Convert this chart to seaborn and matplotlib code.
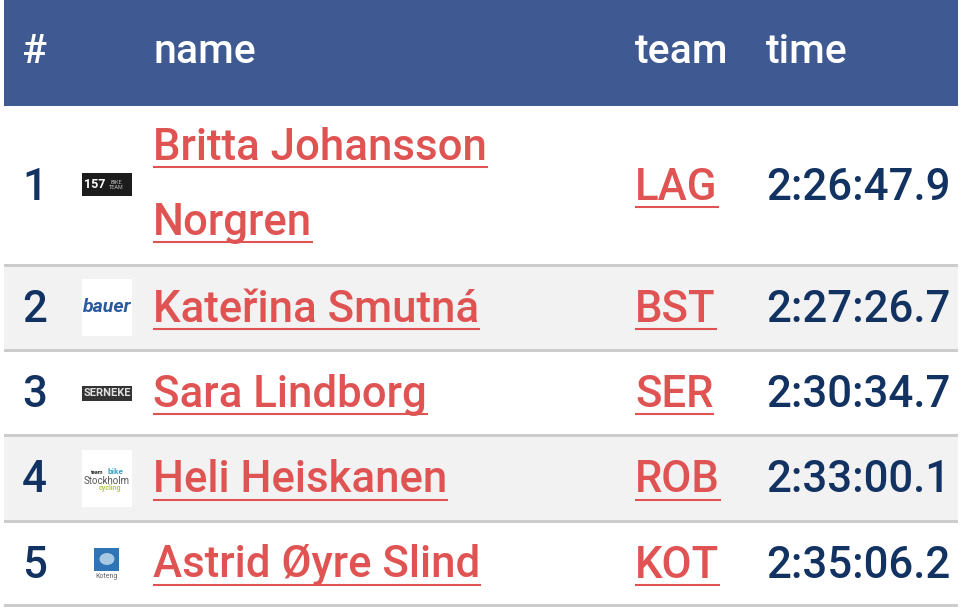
import matplotlib.pyplot as plt
from matplotlib.patches import Rectangle, Ellipse
import seaborn as sns

sns.set_style('white')
plt.rcParams['font.family'] = ['Roboto', 'DejaVu Sans']

headers = ['#', 'name', 'team', 'time']
ranks = ['1', '2', '3', '4', '5']
names = [['Britta Johansson', 'Norgren'], ['Kateřina Smutná'], ['Sara Lindborg'],
         ['Heli Heiskanen'], ['Astrid Øyre Slind']]
teams = ['LAG', 'BST', 'SER', 'ROB', 'KOT']
times = ['2:26:47.9', '2:27:26.7', '2:30:34.7', '2:33:00.1', '2:35:06.2']

# row edges in pixels, top and bottom
row_top = [107, 267, 352, 437, 523]
row_bot = [264, 349, 434, 520, 604]

BLUE = '#3f5a93'
RED = '#e05353'
NAVY = '#123262'
GREY = '#cccccc'
SIZE = 31.5

fig = plt.figure(figsize=(9.6, 6.12), dpi=100)
ax = fig.add_axes([0, 0, 1, 1])
ax.set_xlim(0, 960)
ax.set_ylim(612, 0)
ax.axis('off')


def link(x, y, s):
    t = ax.text(x, y, s, color=RED, fontsize=SIZE, fontweight='medium', va='baseline')
    fig.canvas.draw()
    bb = t.get_window_extent()
    ax.plot([x, x + bb.width + 1], [y + 7, y + 7], color=RED, lw=1.5, solid_capstyle='butt')


# header band
ax.add_patch(Rectangle((4, 0), 954, 106, color=BLUE, lw=0))
for x, label in zip([22, 153, 635, 766], headers):
    ax.text(x, 63, label, color='white', fontsize=29.5, fontweight='medium', va='baseline')

for i, rank in enumerate(ranks):
    top, bot = row_top[i], row_bot[i]
    mid = (top + bot) / 2
    if i % 2 == 1:
        ax.add_patch(Rectangle((4, top), 954, bot - top, color='#f2f2f2', lw=0))
    ax.add_patch(Rectangle((4, bot), 954, 3, color=GREY, lw=0))
    base = mid + 14
    ax.text(22, base, rank, color=NAVY, fontsize=SIZE, fontweight='medium', va='baseline')
    ax.text(766, base, times[i], color=NAVY, fontsize=SIZE, fontweight='medium', va='baseline')
    link(635, base, teams[i])
    if len(names[i]) == 2:
        link(153, 159.5, names[i][0])
        link(153, 235, names[i][1])
    else:
        link(153, base, names[i][0])

# team logos
ax.add_patch(Rectangle((82, 173), 50, 23, color='#1c1c1c', lw=0))
ax.text(95, 185, '157', color='white', fontsize=9, fontweight='bold', ha='center', va='center')
ax.text(116, 185, 'BIKE\nTEAM', color='#bbbbbb', fontsize=4, ha='center', va='center', linespacing=1)

ax.add_patch(Rectangle((82, 279), 50, 57, color='white', lw=0))
ax.text(107, 307, 'bauer', color='#2a5a9c', fontsize=14, fontweight='bold', style='italic',
        ha='center', va='center')

ax.add_patch(Rectangle((82, 386), 50, 15, color='#333333', lw=0))
ax.text(107, 393.5, 'SERNEKE', color='#e0e0e0', fontsize=8, fontweight='bold', ha='center', va='center')

ax.add_patch(Rectangle((82, 450), 50, 57, color='white', lw=0))
ax.text(97, 472, 'team', color='#333333', fontsize=4, fontweight='bold', ha='center', va='center')
ax.text(116, 471, 'bike', color='#3aa0c8', fontsize=6, fontweight='bold', ha='center', va='center')
ax.text(107, 481, 'Stockholm', color='#555555', fontsize=7, ha='center', va='center')
ax.text(110, 488, 'cycling', color='#b8c84a', fontsize=5, fontweight='bold', ha='center', va='center')

ax.add_patch(Rectangle((94, 548), 25, 23, color='#2f74b5', lw=0))
ax.add_patch(Ellipse((107, 559), 15, 12, color='#a8c8e4', lw=0))
ax.text(107, 576, 'Koteng', color='#666666', fontsize=5, ha='center', va='center')

fig.savefig('out.png', dpi=100)
